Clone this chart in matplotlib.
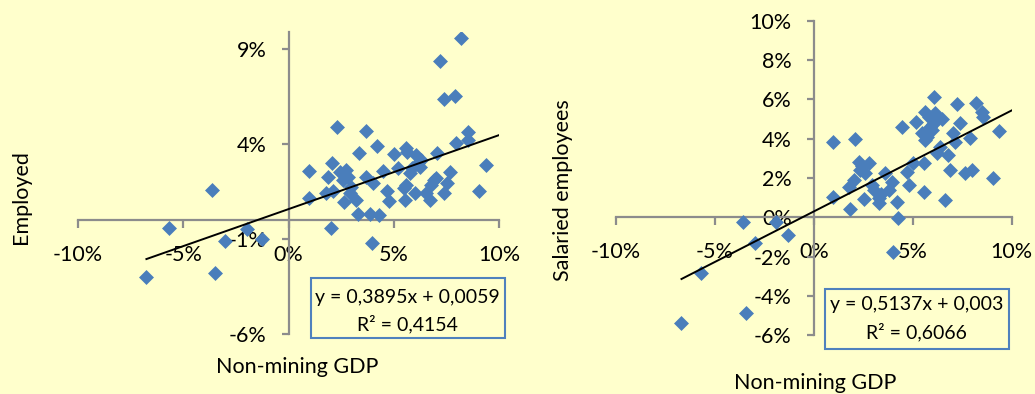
import matplotlib
matplotlib.use("Agg")
import matplotlib.pyplot as plt
from matplotlib.ticker import FuncFormatter, FixedLocator
from matplotlib.patches import Rectangle
import numpy as np

plt.rcParams['font.family'] = ['Lato', 'DejaVu Sans']

# ---- data (in %) ----
emp_x = [-6.75, -5.70, -3.63, -3.47, -3.01, -1.98, -1.27, 0.97, 0.97, 1.79, 1.90, 2.00, 2.07, 2.10,
         2.30, 2.45, 2.58, 2.66, 2.74, 2.82, 2.90, 2.98, 3.21, 3.29, 3.33, 3.69, 3.69, 3.85, 3.97,
         4.00, 4.21, 4.28, 4.48, 4.67, 4.77, 4.99, 5.19, 5.51, 5.54, 5.59, 5.62, 5.75, 5.99, 6.06,
         6.14, 6.25, 6.54, 6.70, 6.75, 6.89, 7.00, 7.05, 7.22, 7.38, 7.41, 7.52, 7.65, 7.89, 7.97,
         8.19, 8.52, 8.52, 9.04, 9.39, 5.85, 5.60, 6.30, 2.62]
emp_y = [-2.96, -0.42, 1.60, -2.79, -1.07, -0.47, -0.98, 2.61, 1.19, 1.42, 2.30, -0.42, 3.00, 1.54,
         4.91, 2.56, 2.12, 0.98, 2.65, 2.30, 1.42, 1.77, 1.07, 0.33, 3.53, 4.72, 2.30, 0.32, -1.18,
         1.98, 3.93, 0.28, 2.60, 1.56, 1.04, 3.49, 2.74, 1.68, 1.07, 3.79, 3.61, 2.47, 1.42, 3.44,
         3.00, 2.82, 1.42, 1.07, 1.86, 2.12, 2.21, 3.53, 8.39, 1.42, 6.39, 1.95, 2.56, 6.54, 4.09,
         9.61, 4.67, 4.23, 1.54, 2.91, 2.75, 1.85, 3.20, 2.45]

sal_x = [-6.69, -5.70, -3.56, -3.45, -2.99, -1.93, -1.31, 0.96, 0.96, 1.76, 1.82, 2.10, 2.02, 2.27,
         2.35, 2.52, 2.61, 2.77, 2.94, 3.03, 3.28, 3.28, 3.61, 3.78, 3.95, 4.00, 4.20, 4.25, 4.45,
         4.71, 4.79, 5.00, 5.18, 5.55, 5.58, 5.46, 5.63, 5.63, 5.80, 5.88, 6.05, 6.13, 6.22, 6.30,
         6.39, 6.61, 6.77, 6.86, 7.03, 7.14, 7.23, 7.39, 7.65, 7.90, 7.98, 8.20, 8.49, 8.54, 9.04,
         9.38, 5.95, 6.02, 5.70, 6.50, 2.45, 3.40]
sal_y = [-5.36, -2.81, -0.22, -4.88, -1.29, -0.22, -0.90, 3.85, 1.05, 1.56, 0.41, 3.97, 1.90, 2.83,
         2.41, 0.92, 2.24, 2.75, 1.64, 1.39, 0.97, 0.71, 2.24, 1.39, 1.81, -1.75, 0.80, -0.05, 4.61,
         2.32, 1.64, 2.75, 4.86, 2.75, 1.31, 4.27, 5.37, 3.93, 5.12, 4.61, 6.10, 5.29, 3.25, 5.03,
         3.59, 0.88, 3.17, 2.41, 4.31, 3.85, 5.76, 4.78, 2.24, 4.02, 2.41, 5.80, 5.37, 5.12, 1.98,
         4.41, 4.45, 4.75, 4.10, 5.00, 2.60, 1.20]

emp_slope, emp_icpt, emp_r2 = 0.3895, 0.0059, 0.4154
sal_slope, sal_icpt, sal_r2 = 0.5137, 0.003, 0.6066

x_ticks = [-10, -5, 0, 5, 10]
emp_yticks = [9, 4, -1, -6]
sal_yticks = [10, 8, 6, 4, 2, 0, -2, -4, -6]

BG = '#FFFFCC'
PT = '#4A7EBB'
AX = '#8C8C8C'

W, H = 1035, 394
fig = plt.figure(figsize=(W / 100, H / 100), dpi=100, facecolor=BG)

pct = FuncFormatter(lambda v, p: f"{v * 100:.0f}%")


def make_panel(rect, xs, ys, slope, icpt, r2, yticks, ylim, box, line_y):
    ax = fig.add_axes(rect)
    ax.set_facecolor(BG)
    ax.patch.set_alpha(0)
    xs = np.array(xs) / 100
    ys = np.array(ys) / 100
    ax.scatter(xs, ys, marker='D', s=58, color=PT, linewidths=0, zorder=3)
    lx = np.array([xs.min(), 0.10])
    ax.plot(lx, slope * lx + icpt, color='black', lw=1.4, zorder=4)
    ax.set_xlim(-0.10, 0.10)
    ax.set_ylim(*ylim)
    for s in ['top', 'right']:
        ax.spines[s].set_visible(False)
    ax.spines['left'].set_position(('data', 0))
    ax.spines['bottom'].set_position(('data', 0))
    for s in ['left', 'bottom']:
        ax.spines[s].set_color(AX)
        ax.spines[s].set_linewidth(1.6)
    ax.xaxis.set_major_locator(FixedLocator([t / 100 for t in x_ticks]))
    ax.yaxis.set_major_locator(FixedLocator([t / 100 for t in yticks]))
    ax.xaxis.set_major_formatter(pct)
    ax.yaxis.set_major_formatter(pct)
    ax.tick_params(axis='x', direction='out', length=6, width=1.6, color=AX,
                   labelsize=15.5, pad=12)
    ax.tick_params(axis='y', direction='out', length=5, width=1.6, color=AX,
                   labelsize=15.5, pad=11)
    # equation box
    x0, y0, x1, y1 = box
    ax.add_patch(Rectangle((x0, y0), x1 - x0, y1 - y0, transform=ax.transAxes,
                           fill=False, edgecolor='#4F81BD', lw=1.5, clip_on=False, zorder=5))
    cx = (x0 + x1) / 2
    ax.text(cx, line_y[0], f"y = {slope:.4g}x + {icpt:.4g}".replace('.', ','),
            transform=ax.transAxes, ha='center', va='center', fontsize=14)
    ax.text(cx, line_y[1], f"R² = {r2:.4f}".replace('.', ','),
            transform=ax.transAxes, ha='center', va='center', fontsize=14)
    return ax


axL = make_panel([78 / W, 1 - 334.3 / H, 421 / W, (334.3 - 31.7) / H],
                 emp_x, emp_y, emp_slope, emp_icpt, emp_r2, emp_yticks, (-0.06, 0.0993),
                 (0.553, -0.012, 1.014, 0.186), (0.123, 0.034))
axR = make_panel([616 / W, 1 - 335.3 / H, 395.7 / W, (335.3 - 20.7) / H],
                 sal_x, sal_y, sal_slope, sal_icpt, sal_r2, sal_yticks, (-0.06, 0.10),
                 (0.528, -0.0435, 0.993, 0.147), (0.098, 0.011))

fig.text(297 / W, 1 - 367 / H, "Non-mining GDP", ha='center', va='center', fontsize=15.5)
fig.text(815 / W, 1 - 383 / H, "Non-mining GDP", ha='center', va='center', fontsize=15.5)
fig.text(21 / W, 1 - 197 / H, "Employed", ha='center', va='center', rotation=90, fontsize=15.5)
fig.text(563 / W, 1 - 190 / H, "Salaried employees", ha='center', va='center', rotation=90, fontsize=15.5)

fig.savefig("out.png", dpi=100, facecolor=BG)
